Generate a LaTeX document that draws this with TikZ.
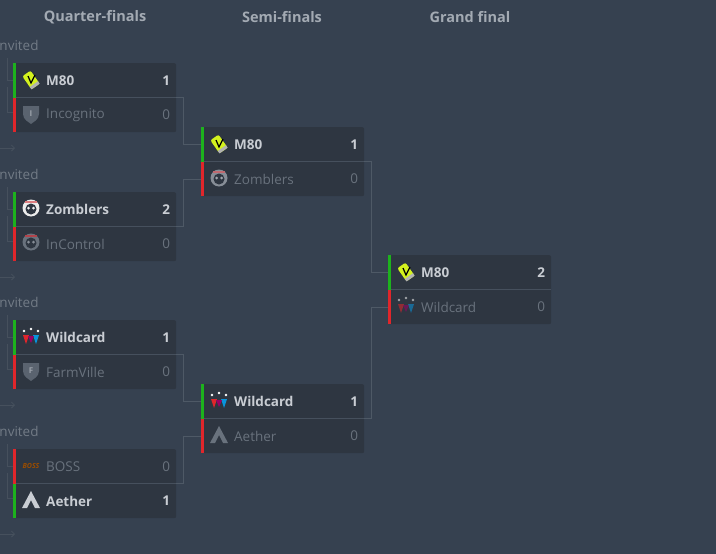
\documentclass[tikz,border=0pt]{standalone}
\usepackage{fontspec}
\setmainfont{Open Sans}
\usetikzlibrary{arrows.meta}
\definecolor{bg}{HTML}{364150}
\definecolor{boxc}{HTML}{2E3641}
\definecolor{sep}{HTML}{46505D}
\definecolor{ln}{HTML}{4E5966}
\definecolor{hdr}{HTML}{A3AAB3}
\definecolor{wtx}{HTML}{C9CDD3}
\definecolor{ltx}{HTML}{69727D}
\definecolor{wg}{HTML}{1DB21D}
\definecolor{lr}{HTML}{E0262B}
\definecolor{m80}{HTML}{D4F21E}
\tikzset{
  hdrtxt/.style={font=\bfseries\fontsize{14.5}{17}\selectfont, text=hdr},
  boxs/.style={fill=boxc, rounded corners=2pt, minimum width=163pt, minimum height=69pt, inner sep=0},
  wname/.style={anchor=west, font=\bfseries\fontsize{13.5}{15}\selectfont, text=wtx, inner sep=0},
  lname/.style={anchor=west, font=\fontsize{13.5}{15}\selectfont, text=ltx, inner sep=0},
  wsc/.style={anchor=east, font=\bfseries\fontsize{13.5}{15}\selectfont, text=wtx, inner sep=0},
  lsc/.style={anchor=east, font=\fontsize{13.5}{15}\selectfont, text=ltx, inner sep=0},
  conn/.style={draw=ln, line width=0.8pt},
}
\newcommand\matchnode[9]{%
  \node[boxs, anchor=north west] (#1) at (#2,#3) {};
  \draw[sep, line width=0.8pt] (#1.west) -- (#1.east);
  \coordinate (#1t) at ([yshift=17.25pt]#1.west);
  \coordinate (#1b) at ([yshift=-17.25pt]#1.west);
  \coordinate (#1tr) at ([yshift=17.25pt]#1.east);
  \coordinate (#1br) at ([yshift=-17.25pt]#1.east);
  \ifnum#6=1
    \fill[wg] (#1.north west) rectangle ([xshift=3pt]#1.west);
    \fill[lr] (#1.west) rectangle ([xshift=3pt]#1.south west);
    \node[wname] (#1n1) at ([xshift=33pt]#1t) {#4};
    \node[wsc] (#1s1) at ([xshift=-6pt]#1tr) {#5};
    \node[lname] (#1n2) at ([xshift=33pt]#1b) {#7};
    \node[lsc] (#1s2) at ([xshift=-6pt]#1br) {#8};
  \else
    \fill[lr] (#1.north west) rectangle ([xshift=3pt]#1.west);
    \fill[wg] (#1.west) rectangle ([xshift=3pt]#1.south west);
    \node[lname] (#1n1) at ([xshift=33pt]#1t) {#4};
    \node[lsc] (#1s1) at ([xshift=-6pt]#1tr) {#5};
    \node[wname] (#1n2) at ([xshift=33pt]#1b) {#7};
    \node[wsc] (#1s2) at ([xshift=-6pt]#1br) {#8};
  \fi
  #9
}
\newcommand\logomeighty[1]{\begin{scope}[shift={(#1)}]
  \fill[m80, rotate=35, rounded corners=2pt] (-5,-8) rectangle (5,8);
  \draw[black, line width=1.2pt] (-3,-4) -- (0,3) -- (4,-5);
  \fill[gray!60, rotate=35] (-5,5) rectangle (5,8);
\end{scope}}
\newcommand\logoshield[2]{\begin{scope}[shift={(#1)}]
  \fill[ltx!70!bg] (-8,-8) -- (8,-8) -- (8,0) .. controls (8,6) and (2,8) .. (0,10) .. controls (-2,8) and (-8,6) .. (-8,0) -- cycle;
  \node[font=\bfseries\fontsize{8}{8}\selectfont, text=wtx!70!bg, inner sep=0] at (0,-0.5) {#2};
\end{scope}}
\newcommand\logoskull[2]{\begin{scope}[shift={(#1)}]
  \fill[#2] (0,0) circle (8.5);
  \fill[boxc] (0,1) circle (5.5);
  \fill[#2!80] (-2.5,0) circle (1.5) (2.5,0) circle (1.5);
  \fill[lr!60!#2] (-6,-7) rectangle (6,-5);
\end{scope}}
\newcommand\logowild[2]{\begin{scope}[shift={(#1)}, opacity=#2]
  \fill[lr] (-8,-2) -- (-2,-2) -- (-5,7) -- cycle;
  \fill[cyan!80!blue] (8,-2) -- (2,-2) -- (5,7) -- cycle;
  \fill[red!60!blue] (-3,-1) -- (3,-1) -- (0,6) -- cycle;
  \fill[white] (-7,-6) circle (1.3) (0,-8) circle (1.3) (7,-6) circle (1.3);
\end{scope}}
\newcommand\logoaether[2]{\begin{scope}[shift={(#1)}]
  \fill[#2] (0,-9) -- (9,8) -- (4,8) -- (0,0) -- (-4,8) -- (-9,8) -- cycle;
\end{scope}}
\begin{document}
\begin{tikzpicture}[x=1pt, y=-1pt]
\useasboundingbox[fill=bg] (0,0) rectangle (716,554);
\node[hdrtxt] (h1) at (95,17) {Quarter-finals};
\node[hdrtxt] (h2) at (282,17) {Semi-finals};
\node[hdrtxt] (h3) at (470,17) {Grand final};

\foreach \i/\y in {a/45,b/174,c/302,d/431}{
  \node[anchor=west, font=\fontsize{13.5}{15}\selectfont, text=ltx!90!wtx, inner sep=0] (inv\i) at (-4.5,\y) {Invited};
  \coordinate (la\i) at (7,\y+13);
  \coordinate (lb\i) at (13,\y+35);
  \coordinate (lc\i) at (7,\y+67);
  \coordinate (ld\i) at (13,\y+67);
  \draw[conn, draw=sep] (la\i) |- (lb\i);
  \draw[conn, draw=sep] (ld\i) -| ([yshift=25pt]lc\i);
  \draw[conn, draw=sep, -{Straight Barb[length=3pt]}] (0,\y+103) -- (15,\y+103);
}

\matchnode{q1}{13}{63}{M80}{1}{1}{Incognito}{0}{%
  \logomeighty{31,80}\logoshield{31,114}{I}}
\matchnode{q2}{13}{192}{Zomblers}{2}{1}{InControl}{0}{%
  \logoskull{31,208}{white!85!gray}\logoskull{31,242}{ltx}}
\matchnode{q3}{13}{320}{Wildcard}{1}{1}{FarmVille}{0}{%
  \logowild{31,337}{1}\logoshield{31,371}{F}}
\matchnode{q4}{13}{449}{BOSS}{0}{0}{Aether}{1}{%
  \node[font=\bfseries\itshape\fontsize{7}{7}\selectfont, text=orange!60!black, inner sep=0] (bosslogo) at (31,466) {BOSS};
  \logoaether{31,500}{wtx}}
\matchnode{s1}{201}{127}{M80}{1}{1}{Zomblers}{0}{%
  \logomeighty{219,144}\logoskull{219,178}{ltx!80!white}}
\matchnode{s2}{201}{384}{Wildcard}{1}{1}{Aether}{0}{%
  \logowild{219,401}{1}\logoaether{219,435}{ltx}}
\matchnode{f1}{388}{255}{M80}{2}{1}{Wildcard}{0}{%
  \logomeighty{406,272}\logowild{406,306}{0.55}}

\coordinate (j1) at (183,0);
\coordinate (j2) at (371,0);
\draw[conn] (q1.east) -| (j1 |- s1t) -- (s1t);
\draw[conn] (q2.east) -| (j1 |- s1b) -- (s1b);
\draw[conn] (q3.east) -| (j1 |- s2t) -- (s2t);
\draw[conn] (q4.east) -| (j1 |- s2b) -- (s2b);
\draw[conn] (s1.east) -| (j2 |- f1t) -- (f1t);
\draw[conn] (s2.east) -| (j2 |- f1b) -- (f1b);
\end{tikzpicture}
\end{document}
